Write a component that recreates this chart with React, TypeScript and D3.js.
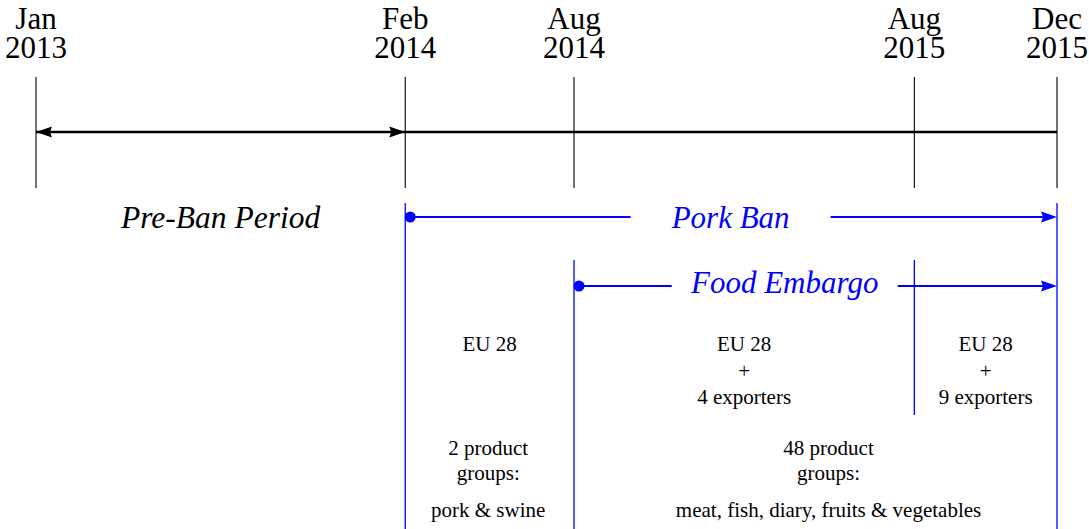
import React from "react";
import * as d3 from "d3";

// ---- data ----
const tickMonths = ["Jan", "Feb", "Aug", "Aug", "Dec"];
const tickYears = ["2013", "2014", "2014", "2015", "2015"];
// "Dec 2015" marks the end of December 2015
const tickDates = [
  new Date(2013, 0, 1),
  new Date(2014, 1, 1),
  new Date(2014, 7, 1),
  new Date(2015, 7, 1),
  new Date(2016, 0, 1),
];

const preBanName = "Pre-Ban Period";
const preBanStart = new Date(2013, 0, 1);
const preBanEnd = new Date(2014, 1, 1);

const periodNames = ["Pork Ban", "Food Embargo"];
const periodStarts = [new Date(2014, 1, 1), new Date(2014, 7, 1)];
const periodEnds = [new Date(2016, 0, 1), new Date(2016, 0, 1)];
const periodLabelDates = [new Date(2015, 0, 16), new Date(2015, 2, 15)];

const dividerDates = [
  new Date(2014, 1, 1),
  new Date(2014, 7, 1),
  new Date(2015, 7, 1),
  new Date(2016, 0, 1),
];

const partnerStarts = [new Date(2014, 1, 1), new Date(2014, 7, 1), new Date(2015, 7, 1)];
const partnerEnds = [new Date(2014, 7, 1), new Date(2015, 7, 1), new Date(2016, 0, 1)];
const partnerLines = [["EU 28"], ["EU 28", "+", "4 exporters"], ["EU 28", "+", "9 exporters"]];

const productCenters = [new Date(2014, 4, 1), new Date(2015, 4, 1)];
const productLines = [["2 product", "groups:"], ["48 product", "groups:"]];
const productLists = ["pork & swine", "meat, fish, diary, fruits & vegetables"];

// ---- layout ----
const W = 1089;
const H = 529;
const FONT = "'Liberation Serif', 'Times New Roman', serif";
const BLUE = "#0000ff";

export default function App() {
  const x = d3
    .scaleTime()
    .domain([tickDates[0], tickDates[tickDates.length - 1]])
    .range([36, 1057]);

  const axisY = 132;
  const rowY = [217, 286];
  const rowLabelBaseline = [228, 293];
  const gapWidths = [200, 226];
  const dividerTops = [203, 260, 260, 203];
  const dividerBottoms = [H, H, 415, H];

  const arrowRight = (tx: number, y: number, len = 15, hw = 5) =>
    `M${tx},${y} L${tx - len},${y - hw} L${tx - len + 2},${y} L${tx - len},${y + hw} Z`;
  const arrowLeft = (tx: number, y: number, len = 15, hw = 5) =>
    `M${tx},${y} L${tx + len},${y - hw} L${tx + len - 2},${y} L${tx + len},${y + hw} Z`;

  return (
    <svg
      width={W}
      height={H}
      style={{ position: "absolute", left: 0, top: 0, background: "#fff", fontFamily: FONT }}
    >
      <rect width={W} height={H} fill="#fff" />

      {/* date labels and ticks */}
      {tickDates.map((d, i) => (
        <g key={"t" + i}>
          <text textAnchor="middle" fontSize={31} fill="#000">
            <tspan x={x(d)} y={29}>
              {tickMonths[i]}
            </tspan>
            <tspan x={x(d)} y={58}>
              {tickYears[i]}
            </tspan>
          </text>
          <line x1={x(d)} x2={x(d)} y1={77} y2={188} stroke="#000" strokeWidth={1.1} />
        </g>
      ))}

      {/* main axis */}
      <line
        x1={x(tickDates[0])}
        x2={x(tickDates[tickDates.length - 1])}
        y1={axisY}
        y2={axisY}
        stroke="#000"
        strokeWidth={2.6}
      />
      <path d={arrowLeft(x(preBanStart), axisY, 16, 5.5)} fill="#000" />
      <path d={arrowRight(x(preBanEnd), axisY, 16, 5.5)} fill="#000" />

      <text
        x={(x(preBanStart) + x(preBanEnd)) / 2}
        y={228}
        textAnchor="middle"
        fontSize={31.5}
        fontStyle="italic"
        fill="#000"
      >
        {preBanName}
      </text>

      {/* blue dividers */}
      {dividerDates.map((d, i) => (
        <line
          key={"dv" + i}
          x1={x(d)}
          x2={x(d)}
          y1={dividerTops[i]}
          y2={dividerBottoms[i]}
          stroke={BLUE}
          strokeWidth={1.3}
        />
      ))}

      {/* periods */}
      {periodNames.map((name, i) => {
        const xs = x(periodStarts[i]);
        const xe = x(periodEnds[i]);
        const xc = x(periodLabelDates[i]);
        const y = rowY[i];
        const g = gapWidths[i];
        return (
          <g key={"p" + i}>
            <line x1={xs + 5} x2={xc - g / 2} y1={y} y2={y} stroke={BLUE} strokeWidth={2.2} />
            <line x1={xc + g / 2} x2={xe - 10} y1={y} y2={y} stroke={BLUE} strokeWidth={2.2} />
            <circle cx={xs + 5} cy={y} r={5.5} fill={BLUE} />
            <path d={arrowRight(xe, y, 16, 5.5)} fill={BLUE} />
            <text
              x={xc}
              y={rowLabelBaseline[i]}
              textAnchor="middle"
              fontSize={31}
              fontStyle="italic"
              fill={BLUE}
            >
              {name}
            </text>
          </g>
        );
      })}

      {/* partner blocks */}
      {partnerLines.map((lines, i) => {
        const xc = (x(partnerStarts[i]) + x(partnerEnds[i])) / 2;
        return (
          <text key={"pl" + i} textAnchor="middle" fontSize={21} fill="#000">
            {lines.map((t, j) => (
              <tspan key={j} x={xc} y={351 + j * 26.5}>
                {t}
              </tspan>
            ))}
          </text>
        );
      })}

      {/* product blocks */}
      {productLines.map((lines, i) => {
        const xc = x(productCenters[i]);
        return (
          <g key={"pr" + i}>
            <text textAnchor="middle" fontSize={21} fill="#000">
              {lines.map((t, j) => (
                <tspan key={j} x={xc} y={455 + j * 25}>
                  {t}
                </tspan>
              ))}
            </text>
            <text x={xc} y={517} textAnchor="middle" fontSize={21} fill="#000">
              {productLists[i]}
            </text>
          </g>
        );
      })}
    </svg>
  );
}
